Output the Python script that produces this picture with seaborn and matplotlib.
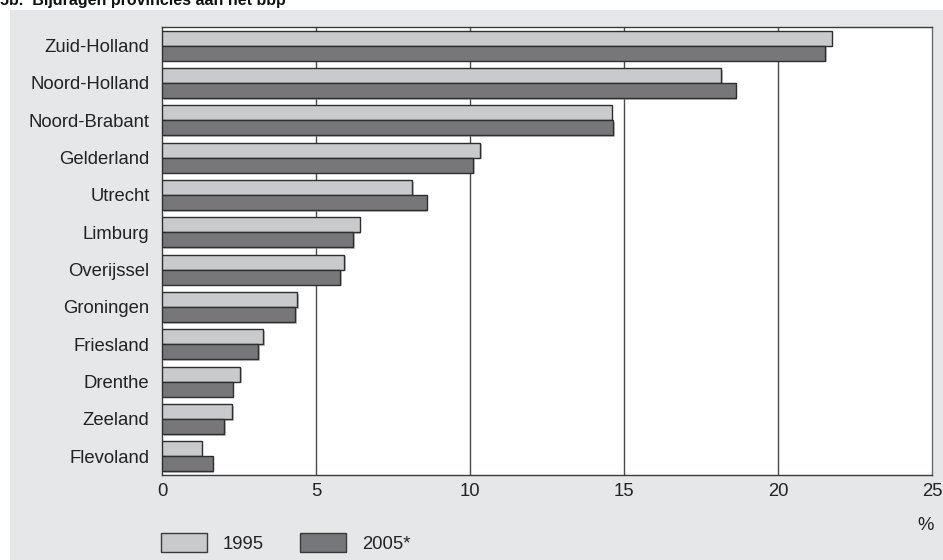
import matplotlib
matplotlib.use("Agg")
import matplotlib.pyplot as plt
import matplotlib.patheffects as pe
import seaborn as sns
import pandas as pd
from matplotlib.patches import Patch

provincies = ["Zuid-Holland", "Noord-Holland", "Noord-Brabant", "Gelderland", "Utrecht",
              "Limburg", "Overijssel", "Groningen", "Friesland", "Drenthe", "Zeeland", "Flevoland"]
aandeel_1995 = [21.74, 18.15, 14.60, 10.33, 8.13, 6.42, 5.92, 4.38, 3.28, 2.53, 2.28, 1.29]
aandeel_2005 = [21.53, 18.63, 14.65, 10.10, 8.59, 6.20, 5.78, 4.32, 3.12, 2.29, 2.02, 1.65]
jaren = ["1995", "2005*"]
xticks = [0, 5, 10, 15, 20, 25]

df = pd.DataFrame({
    "provincie": provincies * 2,
    "aandeel": aandeel_1995 + aandeel_2005,
    "jaar": [jaren[0]] * len(provincies) + [jaren[1]] * len(provincies),
})

sns.set_theme(style="white")
plt.rcParams["font.family"] = ["Liberation Sans", "DejaVu Sans"]

licht, donker = "#c9cacb", "#76777a"
tekst = "#222222"
fs = 13.3
W, H = 943, 560
fig = plt.figure(figsize=(W / 100, H / 100), dpi=100)
fig.patch.set_facecolor("white")

# grey panel behind the chart
bg = fig.add_axes([10 / W, 0, 1 - 10 / W, 1 - 10 / H], zorder=-1)
bg.set_facecolor("#e6e7e8")
bg.set_xticks([])
bg.set_yticks([])
for s in bg.spines.values():
    s.set_visible(False)

ax = fig.add_axes([162 / W, 1 - 475 / H, (932 - 162) / W, (475 - 27) / H], zorder=1)
ax.set_facecolor("white")
sns.barplot(data=df, y="provincie", x="aandeel", hue="jaar", palette=[licht, donker],
            orient="h", width=0.8, edgecolor="#2e2e2e", linewidth=1.0, ax=ax,
            legend=False, zorder=3)
for bar in ax.patches:
    bar.set_path_effects([pe.SimplePatchShadow(offset=(1.2, -1.2), shadow_rgbFace="#9a9a9a",
                                               alpha=0.6), pe.Normal()])

ax.set_xlim(0, 25)
ax.set_xticks(xticks)
ax.set_xticklabels([str(t) for t in xticks], fontsize=fs, color=tekst)
ax.tick_params(axis="x", length=0, pad=6)
ax.tick_params(axis="y", length=0, pad=9, labelsize=fs, labelcolor=tekst)
ax.set_xlabel("")
ax.set_ylabel("")
for x in xticks[1:-1]:
    ax.axvline(x, color="#4a4a4a", linewidth=1.0, zorder=1)
for side in ["left", "bottom", "top"]:
    ax.spines[side].set_color("#3a3a3a")
    ax.spines[side].set_linewidth(1.0)
ax.spines["right"].set_color("#6a6a6a")
ax.spines["right"].set_linewidth(1.0)

fig.text(926 / W, 1 - 525 / H, "%", fontsize=fs, color=tekst, ha="center", va="center")
fig.text(0.0, 1 - 5 / H, "5b.  Bijdragen provincies aan het bbp", fontsize=11.5,
         fontweight="bold", color="#111111", ha="left", va="baseline")

handles = [Patch(facecolor=licht, edgecolor="#3a3a3a", linewidth=1.0),
           Patch(facecolor=donker, edgecolor="#3a3a3a", linewidth=1.0)]
leg = fig.legend(handles, jaren, loc="center left", bbox_to_anchor=(161 / W, 1 - 543 / H),
                 ncol=2, frameon=False, fontsize=fs, handlelength=2.5, handleheight=1.2,
                 columnspacing=1.95, handletextpad=0.86, borderaxespad=0, borderpad=0)
for t in leg.get_texts():
    t.set_color(tekst)

fig.savefig("out.png", dpi=100)
